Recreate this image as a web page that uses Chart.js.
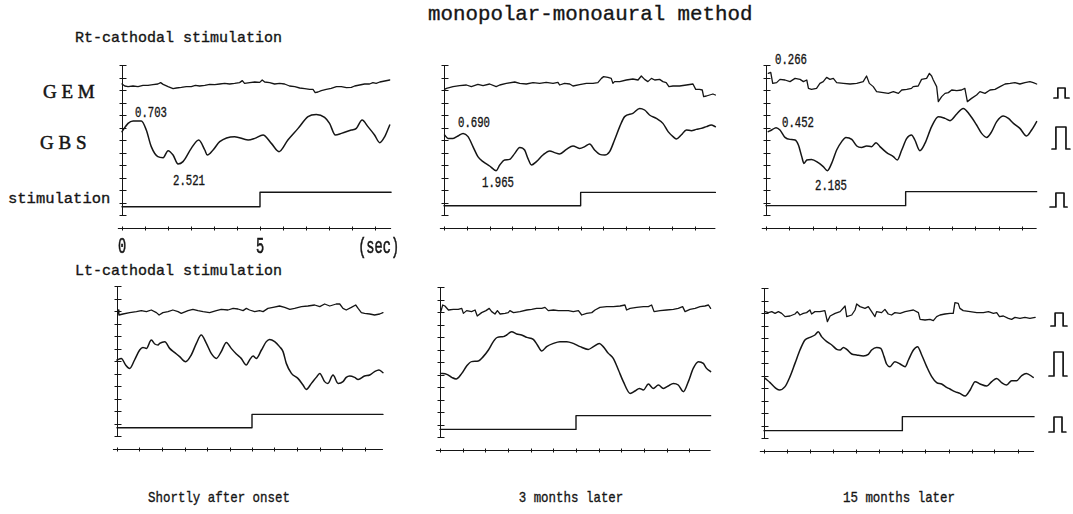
<!DOCTYPE html>
<html>
<head>
<meta charset="utf-8">
<script src="https://cdn.jsdelivr.net/npm/chart.js@4.4.1/dist/chart.umd.min.js"></script>
<style>
html,body{margin:0;padding:0;background:#fff;}
body{width:1073px;height:514px;position:relative;overflow:hidden;}
.t{position:absolute;white-space:nowrap;color:#151515;line-height:1;font-family:"Liberation Mono","DejaVu Sans Mono",monospace;-webkit-text-stroke:0.35px #151515;}
.serif{font-family:"Liberation Serif","DejaVu Serif",serif;-webkit-text-stroke:0.5px #151515;}
.narrow{transform:scaleX(0.76);transform-origin:0 0;font-size:14px;}
.cap{width:300px;text-align:center;font-size:15px;transform:scaleX(0.83);transform-origin:50% 0;}
.pan{position:absolute;width:315px;height:203px;}
</style>
</head>
<body>
<div class="t" style="left:428px;top:4.8px;font-size:20.8px;">monopolar-monoaural method</div>
<div class="t" style="left:75px;top:31.2px;font-size:15px;">Rt-cathodal stimulation</div>
<div class="t" style="left:75px;top:263.5px;font-size:15px;">Lt-cathodal stimulation</div>
<div class="t serif" style="left:43px;top:81.8px;font-size:19px;">G E M</div>
<div class="t serif" style="left:40px;top:133.4px;font-size:19px;">G B S</div>
<div class="t" style="left:8px;top:192.1px;font-size:15.5px;">stimulation</div>

<div class="t narrow" style="left:135px;top:106px;">0.703</div>
<div class="t narrow" style="left:173px;top:174.3px;">2.521</div>
<div class="t narrow" style="left:458px;top:116px;">0.690</div>
<div class="t narrow" style="left:482px;top:176px;">1.965</div>
<div class="t narrow" style="left:775px;top:53.3px;">0.266</div>
<div class="t narrow" style="left:782px;top:116px;">0.452</div>
<div class="t narrow" style="left:815px;top:179.3px;">2.185</div>

<div class="t cap" style="left:69px;top:490.5px;">Shortly after onset</div>
<div class="t cap" style="left:421px;top:490.5px;">3 months later</div>
<div class="t cap" style="left:749px;top:490.5px;">15 months later</div>

<div class="pan" style="left:114px;top:57px;"><canvas id="c1" width="315" height="203"></canvas></div>
<div class="pan" style="left:436px;top:57px;"><canvas id="c2" width="315" height="203"></canvas></div>
<div class="pan" style="left:758px;top:57px;"><canvas id="c3" width="315" height="203"></canvas></div>
<div class="pan" style="left:109px;top:278px;"><canvas id="c4" width="315" height="203"></canvas></div>
<div class="pan" style="left:432px;top:279px;"><canvas id="c5" width="315" height="203"></canvas></div>
<div class="pan" style="left:756px;top:280px;"><canvas id="c6" width="315" height="203"></canvas></div>

<script>
// ---------- axis definitions (time in sec, amplitude in divisions) ----------
const yDivisions = [0,1,2,3,4,5,6,7,8,9,10,11,12];
const secTicks = [0,0.83,1.67,2.5,3.33,4.17,5,5.83,6.67,7.5,8.33,9.17];
const secTickLabels = ['0','5'];
const secTickValues = [0,5];
const secUnit = '(sec)';

// ---------- Rt-cathodal, shortly after onset ----------
const p1GemT = [0,0.1,0.22,0.4,0.58,0.76,0.94,1.12,1.3,1.4,1.49,1.67,1.85,1.97,2.15,2.33,2.51,2.66,2.81,3.0,3.18,3.36,3.54,3.72,3.9,4.08,4.26,4.36,4.44,4.63,4.81,4.99,5.08,5.17,5.35,5.53,5.71,5.89,6.07,6.26,6.44,6.62,6.8,6.92,7.0,7.1,7.22,7.4,7.58,7.77,7.95,8.13,8.31,8.43,8.61,8.79,8.97,9.09,9.21,9.34,9.52,9.7];
const p1GemV = [10.48,10.32,10.27,10.32,10.27,10.37,10.37,10.43,10.48,10.59,10.45,10.27,10.11,10.16,10.21,10.27,10.27,10.37,10.32,10.37,10.45,10.43,10.48,10.53,10.48,10.53,10.59,10.75,10.53,10.59,10.64,10.61,10.8,10.64,10.59,10.48,10.53,10.48,10.32,10.27,10.16,10.11,10.05,10.05,9.79,9.84,9.95,10.05,10.13,10.27,10.27,10.19,10.21,10.32,10.4,10.48,10.48,10.59,10.53,10.64,10.72,10.8];
const p1GbsT = [0,0.22,0.4,0.7,0.88,1.06,1.3,1.49,1.67,1.85,2.03,2.21,2.51,2.78,3.0,3.09,3.3,3.54,4.08,4.57,4.81,5.11,5.41,5.69,6.01,6.38,6.74,7.04,7.34,7.52,7.73,7.95,8.31,8.49,8.7,8.91,9.15,9.34,9.52,9.7];
const p1GbsV = [6.67,7.33,7.52,7.52,6.8,5.47,4.67,4.59,5.15,4.8,4.08,4.27,5.33,6.0,5.2,4.8,5.2,5.87,6.27,6.0,6.13,6.4,5.73,5.07,6.0,6.93,7.87,8.05,7.81,7.33,6.4,6.53,6.8,6.93,7.6,7.07,6.4,5.79,6.27,7.2];
const p1StimT = [0,5,9.75];
const p1StimV = [0.66,1.82,1.82];

// ---------- Rt-cathodal, 3 months later ----------
const p2GemT = [0.02,0.09,0.33,0.57,0.82,1.0,1.24,1.43,1.67,1.91,2.04,2.28,2.59,2.77,3.01,3.26,3.5,3.74,3.99,4.17,4.23,4.41,4.6,4.72,4.96,5.21,5.45,5.63,5.76,5.84,6.0,6.12,6.18,6.24,6.43,6.67,6.91,7.1,7.22,7.34,7.46,7.59,7.71,7.89,8.01,8.13,8.23,8.38,8.62,8.87,9.11,9.21,9.35,9.45,9.5,9.6,9.72,9.84,9.93];
const p2GemV = [10.05,10.13,10.27,10.35,10.4,10.27,10.45,10.35,10.48,10.27,10.4,10.53,10.64,10.53,10.48,10.59,10.53,10.61,10.53,10.61,10.4,10.53,10.48,10.32,10.43,10.53,10.53,10.59,10.93,11.07,11.01,10.93,10.53,10.67,10.67,10.8,10.88,10.8,11.12,10.85,10.67,10.93,10.8,10.85,10.67,10.59,10.27,10.32,10.32,10.4,10.48,10.05,10.05,10.0,9.47,9.52,9.6,9.68,9.6];
const p2GbsT = [0.02,0.15,0.33,0.51,0.7,0.88,1.06,1.24,1.43,1.67,1.91,2.04,2.22,2.4,2.59,2.77,2.95,3.07,3.2,3.38,3.62,3.87,4.05,4.23,4.48,4.72,4.96,5.15,5.33,5.51,5.7,5.88,6.06,6.24,6.43,6.61,6.91,7.16,7.34,7.52,7.77,8.01,8.2,8.38,8.5,8.68,8.87,9.05,9.23,9.41,9.6,9.78,9.93];
const p2GbsV = [6.4,6.13,6.13,6.32,6.53,6.27,5.47,4.67,4.27,3.92,3.55,4.0,4.4,4.45,4.93,5.41,5.2,4.53,4.0,4.27,4.8,5.12,4.99,4.88,5.25,5.52,5.33,5.47,5.68,5.2,4.85,4.8,5.07,6.0,7.07,7.87,8.13,8.53,8.4,8.0,7.73,7.33,6.67,6.27,6.08,6.4,6.8,6.75,6.85,6.93,7.07,7.2,7.07];
const p2StimT = [0,5,9.93];
const p2StimV = [0.74,1.81,1.81];

// ---------- Rt-cathodal, 15 months later ----------
const p3GemT = [0.08,0.17,0.24,0.38,0.5,0.68,0.86,1.04,1.22,1.34,1.46,1.52,1.63,1.81,1.93,2.05,2.17,2.29,2.41,2.53,2.77,3.01,3.25,3.48,3.6,3.7,3.84,3.96,4.2,4.38,4.56,4.74,4.86,5.04,5.21,5.27,5.45,5.57,5.75,5.85,5.93,5.99,6.11,6.17,6.29,6.41,6.53,6.65,6.83,7.0,7.12,7.21,7.36,7.54,7.66,7.84,8.02,8.2,8.38,8.56,8.74,8.91,9.09,9.27,9.45,9.57,9.69];
const p3GemV = [11.33,11.41,10.53,10.59,10.85,10.8,10.67,10.93,10.85,10.67,10.8,10.13,10.05,10.13,10.53,10.67,11.01,10.85,10.93,10.59,10.53,10.48,10.53,10.67,11.12,10.53,10.27,9.87,9.79,9.73,9.87,9.73,10.0,10.05,10.13,10.27,10.32,10.85,10.93,11.33,11.12,10.8,10.27,9.07,9.47,9.73,9.79,10.0,9.95,10.0,10.13,9.07,9.33,9.6,9.87,9.73,10.0,10.05,10.27,10.48,10.53,10.59,10.48,10.59,10.67,10.59,10.48];
const p3GbsT = [0.08,0.2,0.36,0.5,0.68,0.86,1.04,1.16,1.28,1.36,1.46,1.63,1.87,2.05,2.2,2.35,2.53,2.71,2.86,3.07,3.25,3.42,3.6,3.78,3.94,4.08,4.32,4.56,4.7,4.86,5.04,5.21,5.33,5.51,5.69,5.93,6.17,6.41,6.59,6.83,7.06,7.3,7.54,7.72,7.9,8.08,8.26,8.5,8.68,8.86,9.09,9.33,9.51,9.69];
const p3GbsV = [6.67,6.8,6.99,6.8,6.21,6.05,6.0,5.6,4.67,4.13,4.4,4.45,4.19,3.87,3.55,4.13,5.2,5.87,6.21,6.05,5.52,5.41,5.52,5.47,5.79,5.47,4.99,4.67,4.4,5.2,6.13,6.4,6.0,5.15,5.73,7.07,7.87,7.73,7.55,8.08,8.53,8.0,7.2,6.53,6.21,6.67,7.47,7.92,7.73,7.33,6.93,6.32,6.8,7.47];
const p3StimT = [0,5,9.69];
const p3StimV = [0.75,1.87,1.87];
const p3CalGemT = [10.31,10.45,10.71,10.85];
const p3CalGemV = [9.36,10.16,9.36,9.36];
const p3CalGbsT = [10.24,10.38,10.74,10.88];
const p3CalGbsV = [5.28,7.04,5.28,5.28];
const p3CalStimT = [10.17,10.38,10.67,10.78];
const p3CalStimV = [0.64,1.76,0.64,0.64];

// ---------- Lt-cathodal, shortly after onset ----------
const p4GemT = [0.04,0.07,0.22,0.47,0.72,0.9,1.09,1.27,1.46,1.56,1.7,1.89,2.07,2.26,2.38,2.63,2.81,3.0,3.19,3.43,3.68,3.86,4.11,4.3,4.48,4.67,4.79,4.91,5.1,5.28,5.41,5.59,5.78,6.02,6.21,6.4,6.58,6.83,7.07,7.32,7.51,7.69,7.88,8.12,8.25,8.37,8.49,8.68,8.84,8.93,9.05,9.17,9.36,9.54,9.73,9.85];
const p4GemV = [10.08,9.68,9.76,9.87,9.95,10.03,9.95,10.08,9.87,9.68,9.87,9.95,10.08,9.95,9.81,10.03,10.13,10.03,9.95,9.87,10.03,10.13,10.08,10.21,10.16,10.03,10.21,10.08,9.95,10.03,9.95,10.21,10.29,10.4,10.29,10.13,10.21,10.35,10.4,10.48,10.35,10.56,10.4,10.56,10.56,10.21,10.08,10.29,10.48,10.21,9.87,9.81,9.76,9.68,9.76,9.87];
const p4GbsT = [0,0.16,0.32,0.47,0.65,0.84,0.96,1.09,1.27,1.4,1.52,1.58,1.77,1.95,2.14,2.32,2.54,2.75,2.94,3.12,3.31,3.49,3.68,3.86,4.05,4.23,4.42,4.6,4.79,4.91,5.04,5.16,5.35,5.53,5.65,5.84,6.02,6.15,6.27,6.46,6.7,6.89,7.01,7.2,7.38,7.51,7.69,7.81,8.0,8.19,8.37,8.49,8.62,8.8,8.93,9.17,9.36,9.54,9.7,9.85];
const p4GbsV = [6.08,6.21,5.68,5.41,6.08,6.88,7.09,7.01,7.68,7.36,7.28,7.41,7.55,7.01,6.67,6.35,5.95,6.48,7.41,8.08,7.41,6.61,6.21,6.75,7.49,7.01,6.56,6.21,5.68,6.08,6.4,6.21,6.88,7.55,7.73,7.55,7.15,6.75,5.81,5.01,4.61,4.08,3.73,4.21,4.69,5.01,4.35,4.21,4.88,4.21,4.35,4.69,4.8,4.69,4.53,4.8,4.88,5.15,5.28,5.07];
const p4StimT = [0,5,9.85];
const p4StimV = [0.66,1.73,1.73];

// ---------- Lt-cathodal, 3 months later ----------
const p5GemT = [0.02,0.1,0.18,0.31,0.49,0.67,0.8,0.86,0.98,1.16,1.29,1.37,1.53,1.69,1.81,1.9,2.02,2.11,2.21,2.39,2.51,2.57,2.7,2.94,3.19,3.37,3.55,3.74,3.86,3.98,4.17,4.35,4.53,4.72,4.9,5.09,5.21,5.39,5.58,5.7,5.88,6.13,6.37,6.62,6.8,6.86,6.99,7.23,7.48,7.66,7.78,7.87,8.09,8.33,8.58,8.76,8.92,9.01,9.19,9.38,9.56,9.74,9.87,9.95];
const p5GemV = [9.95,10.56,10.48,10.16,10.21,10.21,10.29,9.89,10.11,10.03,10.16,9.68,9.95,10.11,10.29,10.03,9.84,10.11,9.84,9.89,9.95,10.11,9.95,10.03,10.16,10.21,10.29,10.29,10.37,10.11,10.16,10.11,10.11,10.11,10.03,10.11,9.76,9.89,9.95,10.16,10.37,10.43,10.43,10.48,10.56,10.16,10.29,10.37,10.43,10.43,10.56,10.03,10.11,10.16,10.21,10.29,10.43,10.03,10.21,10.29,10.43,10.48,10.56,10.29];
const p5GbsT = [0.02,0.25,0.43,0.59,0.8,0.98,1.16,1.41,1.59,1.78,1.96,2.11,2.33,2.45,2.63,2.82,3.0,3.19,3.43,3.58,3.74,3.92,4.17,4.41,4.66,4.9,5.15,5.45,5.64,5.86,6.0,6.19,6.37,6.56,6.74,6.99,7.17,7.33,7.48,7.66,7.84,8.03,8.21,8.39,8.58,8.76,8.95,9.13,9.31,9.5,9.68,9.8,9.95];
const p5GbsV = [5.09,5.01,4.77,4.64,5.09,5.68,6.03,6.08,6.43,6.96,7.63,7.97,8.03,8.16,8.43,8.24,8.16,7.97,7.81,7.36,6.88,7.23,7.49,7.63,7.63,7.49,7.23,7.01,7.23,7.49,7.23,6.69,6.29,5.36,4.43,3.49,3.68,3.89,3.76,4.24,3.89,4.16,3.89,4.08,4.29,4.16,3.63,4.43,5.49,6.03,5.89,5.49,5.23];
const p5StimT = [0,5,9.95];
const p5StimV = [0.61,1.71,1.71];

// ---------- Lt-cathodal, 15 months later ----------
const p6GemT = [0.04,0.16,0.28,0.4,0.52,0.64,0.76,0.94,1.12,1.2,1.3,1.42,1.54,1.66,1.72,1.84,2.02,2.2,2.29,2.39,2.57,2.75,2.93,2.99,3.17,3.29,3.35,3.47,3.65,3.77,3.89,4.01,4.07,4.25,4.37,4.49,4.61,4.73,4.92,5.1,5.28,5.4,5.58,5.64,5.82,6.0,6.12,6.24,6.36,6.54,6.72,6.84,6.9,7.02,7.08,7.2,7.45,7.69,7.93,8.11,8.29,8.41,8.51,8.65,8.83,8.95,9.07,9.25,9.43,9.61,9.8];
const p6GemV = [10.11,10.03,10.11,9.97,10.11,9.97,9.71,9.76,9.92,10.11,9.84,9.97,10.03,10.24,9.92,10.11,10.11,10.19,9.31,9.76,9.97,10.11,10.56,9.71,9.84,10.24,10.72,10.51,10.37,10.51,10.11,9.71,10.11,10.03,10.29,9.92,9.84,10.03,9.97,10.11,10.19,10.24,10.03,9.49,9.44,9.49,9.39,9.71,9.84,9.92,9.97,9.97,10.83,10.77,10.37,10.19,10.11,10.03,10.03,10.11,9.97,10.03,9.71,9.76,9.57,9.49,9.65,9.57,9.65,9.57,9.65];
const p6GbsT = [0.04,0.22,0.4,0.55,0.76,0.94,1.12,1.3,1.48,1.66,1.84,1.96,2.08,2.27,2.45,2.63,2.75,2.87,2.99,3.17,3.35,3.59,3.77,3.89,4.07,4.22,4.34,4.43,4.55,4.73,4.92,5.1,5.22,5.4,5.55,5.7,5.88,6.06,6.24,6.42,6.6,6.72,6.9,7.08,7.27,7.45,7.63,7.81,8.05,8.23,8.41,8.59,8.77,8.95,9.13,9.3,9.48,9.73];
const p6GbsV = [4.77,4.43,4.03,3.84,4.11,4.91,5.97,7.04,7.84,8.05,8.24,8.51,8.11,7.71,7.44,7.09,7.04,7.25,7.09,6.72,6.64,6.56,6.69,7.04,7.25,7.17,6.51,5.92,5.71,6.11,5.92,5.71,6.24,7.04,7.31,6.64,5.71,4.91,4.43,4.32,4.05,3.92,3.71,3.57,3.36,3.84,4.51,4.32,4.16,4.51,4.77,4.43,4.24,4.59,4.59,4.96,5.17,4.85];
const p6StimT = [0,5,9.76];
const p6StimV = [0.59,1.71,1.71];
const p6CalGemT = [10.37,10.52,10.81,10.95];
const p6CalGemV = [8.96,10.0,8.96,8.96];
const p6CalGbsT = [10.3,10.48,10.81,10.95];
const p6CalGbsV = [4.96,6.88,4.96,4.96];
const p6CalStimT = [10.3,10.48,10.77,10.91];
const p6CalStimV = [0.48,1.68,0.48,0.48];

// ---------- layout ----------
const INK = '#151515';
const PX_PER_DIV = 12.5, CAN_W = 315, CAN_H = 203, LEFT_PAD = 8, TOP_PAD = 158;
const xAxisLevel = -1;

function pts(T, V) { return T.map((t, i) => ({x: t, y: V[i]})); }

const panels = [
  {id:'c1', pps:27.6, gem:[p1GemT,p1GemV], gbs:[p1GbsT,p1GbsV], stim:[p1StimT,p1StimV], labels:true},
  {id:'c2', pps:27.33, gem:[p2GemT,p2GemV], gbs:[p2GbsT,p2GbsV], stim:[p2StimT,p2StimV]},
  {id:'c3', pps:27.93, gem:[p3GemT,p3GemV], gbs:[p3GbsT,p3GbsV], stim:[p3StimT,p3StimV],
    cal:[[p3CalGemT,p3CalGemV],[p3CalGbsT,p3CalGbsV],[p3CalStimT,p3CalStimV]]},
  {id:'c4', pps:27.0, gem:[p4GemT,p4GemV], gbs:[p4GbsT,p4GbsV], stim:[p4StimT,p4StimV]},
  {id:'c5', pps:27.2, gem:[p5GemT,p5GemV], gbs:[p5GbsT,p5GbsV], stim:[p5StimT,p5StimV]},
  {id:'c6', pps:27.67, gem:[p6GemT,p6GemV], gbs:[p6GbsT,p6GbsV], stim:[p6StimT,p6StimV],
    cal:[[p6CalGemT,p6CalGemV],[p6CalGbsT,p6CalGbsV],[p6CalStimT,p6CalStimV]]}
];

const traceAxes = {
  id: 'traceAxes',
  beforeDatasetsDraw(chart) {
    const o = chart.options.plugins.traceAxes;
    const ctx = chart.ctx, xs = chart.scales.x, ys = chart.scales.y;
    const X = v => xs.getPixelForValue(v), Y = v => ys.getPixelForValue(v);
    ctx.save();
    ctx.strokeStyle = INK; ctx.lineWidth = 1;
    ctx.beginPath();
    const ax = Math.round(X(0)) + 0.5;
    ctx.moveTo(ax, Math.round(Y(yDivisions[0])) + 0.5);
    ctx.lineTo(ax, Math.round(Y(yDivisions[yDivisions.length - 1])) + 0.5);
    yDivisions.forEach(v => {
      const py = Math.round(Y(v)) + 0.5;
      ctx.moveTo(ax - 3, py); ctx.lineTo(ax + 4, py);
    });
    const by = Math.round(Y(xAxisLevel)) + 0.5;
    ctx.moveTo(X(-0.15), by); ctx.lineTo(X(o.end), by);
    secTicks.filter(t => t <= o.end).forEach(t => {
      const px = Math.round(X(t)) + 0.5;
      ctx.moveTo(px, by - 2); ctx.lineTo(px, by + 2);
    });
    ctx.stroke();
    if (o.labels) {
      ctx.fillStyle = INK; ctx.strokeStyle = INK; ctx.lineWidth = 0.6;
      ctx.font = '22px "Liberation Mono", "DejaVu Sans Mono", monospace';
      ctx.textBaseline = 'alphabetic';
      const base = by + 24.5;
      secTickValues.forEach((v, i) => {
        ctx.save(); ctx.translate(X(v), base); ctx.scale(0.62, 1);
        ctx.textAlign = 'center'; ctx.fillText(secTickLabels[i], 0, 0); ctx.strokeText(secTickLabels[i], 0, 0); ctx.restore();
      });
      ctx.save(); ctx.translate(X(o.end) + 8, base); ctx.scale(0.62, 1);
      ctx.textAlign = 'right'; ctx.fillText(secUnit, 0, 0); ctx.strokeText(secUnit, 0, 0); ctx.restore();
    }
    ctx.restore();
  }
};

panels.forEach(p => {
  const xmin = -LEFT_PAD / p.pps;
  const xmax = (CAN_W - LEFT_PAD) / p.pps;
  const ymax = TOP_PAD / PX_PER_DIV;
  const ymin = ymax - CAN_H / PX_PER_DIV;
  const line = (T, V, extra) => Object.assign({
    data: pts(T, V), borderColor: INK, borderWidth: 1.4, pointRadius: 0,
    fill: false, tension: 0, borderJoinStyle: 'round', borderCapStyle: 'round'
  }, extra || {});
  const ds = [
    line(p.gem[0], p.gem[1], {borderWidth: 1.3}),
    line(p.gbs[0], p.gbs[1], {cubicInterpolationMode: 'monotone', borderWidth: 1.5}),
    line(p.stim[0], p.stim[1], {stepped: true, borderWidth: 1.4})
  ];
  (p.cal || []).forEach(c => ds.push(line(c[0], c[1], {stepped: true, borderWidth: 1.7})));
  new Chart(document.getElementById(p.id), {
    type: 'line',
    data: {datasets: ds},
    options: {
      responsive: false, animation: false, devicePixelRatio: 1,
      layout: {padding: 0},
      events: [],
      plugins: {legend: {display: false}, tooltip: {enabled: false},
        traceAxes: {end: p.stim[0][p.stim[0].length - 1], labels: !!p.labels}},
      scales: {
        x: {type: 'linear', min: xmin, max: xmax, display: false},
        y: {type: 'linear', min: ymin, max: ymax, display: false}
      }
    },
    plugins: [traceAxes]
  });
});
</script>
</body>
</html>
